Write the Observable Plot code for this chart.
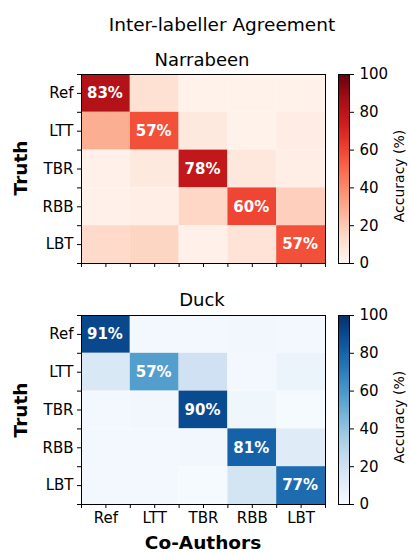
<!DOCTYPE html>
<html>
<head>
<meta charset="utf-8">
<script src="https://cdn.jsdelivr.net/npm/d3@7"></script>
<script src="https://cdn.jsdelivr.net/npm/@observablehq/plot@0.6"></script>
<style>
  body { margin: 0; background: white; font-family: "DejaVu Sans", sans-serif; }
  #wrap { position: relative; width: 409px; height: 552px; overflow: hidden; background: white; }
  #wrap svg { position: absolute; }
  #wrap g[aria-label$="tick label"] { font-size: 15px !important; font-family: "DejaVu Sans"; }
  .lbl { position: absolute; white-space: nowrap; color: #000; line-height: 1; }
</style>
</head>
<body>
<div id="wrap"></div>
<script>
// Data
const categories = ["Ref", "LTT", "TBR", "RBB", "LBT"];
const colorTicks = [0, 20, 40, 60, 80, 100];
// rows = Truth, columns = Co-Authors (accuracy %)
const narrabeen = [
  [83, 11, 2, 2, 2],
  [29, 57, 7, 2, 5],
  [3, 7, 78, 8, 4],
  [3, 4, 15, 60, 18],
  [14, 16, 3, 10, 57]
];
const duck = [
  [91, 2, 2, 3, 2],
  [15, 57, 20, 2, 6],
  [2, 3, 90, 4, 1],
  [2, 2, 3, 81, 12],
  [2, 2, 1, 18, 77]
];

const wrap = document.getElementById("wrap");
const halfTicks = d3.range(0, 5.01, 0.5);
const font = { fontFamily: "DejaVu Sans", fontSize: "15px", color: "#000", background: "transparent", overflow: "visible" };

function heatmap(values, scheme, showX, top, height, mb) {
  const data = values.flatMap((row, i) => row.map((v, j) => ({ row: i, col: j, v })));
  const svg = Plot.plot({
    width: 330, height, marginLeft: 81, marginRight: 5, marginTop: 10, marginBottom: mb,
    style: font,
    x: { domain: [0, 5] },
    y: { domain: [0, 5], reverse: true },
    color: { type: "linear", scheme, domain: [0, 100] },
    marks: [
      Plot.rect(data, { x1: "col", x2: d => d.col + 1, y1: "row", y2: d => d.row + 1, fill: "v" }),
      Plot.text(data.filter(d => d.row === d.col), {
        x: d => d.col + 0.5, y: d => d.row + 0.5, dx: -1, text: d => d.v + "%",
        fill: "white", fontWeight: "bold", fontSize: 15
      }),
      Plot.frame({ stroke: "black", strokeWidth: 1 }),
      Plot.axisX({
        ticks: halfTicks, tickSize: 4, tickPadding: 4, label: null, fontSize: 15,
        tickFormat: d => (showX && d % 1 === 0.5) ? categories[d - 0.5] : ""
      }),
      Plot.axisY({
        ticks: halfTicks, tickSize: 4, tickPadding: 4, label: null, fontSize: 15,
        tickFormat: d => (d % 1 === 0.5) ? categories[d - 0.5] : ""
      })
    ]
  });
  svg.style.left = "0px";
  svg.style.top = top + "px";
  wrap.appendChild(svg);
}

function colorbar(scheme, top, height, mb) {
  const svg = Plot.plot({
    width: 79, height, marginLeft: 8, marginRight: 60, marginTop: 10, marginBottom: mb,
    style: font,
    x: { domain: [0, 1], axis: null },
    y: { domain: [0, 100] },
    color: { type: "linear", scheme, domain: [0, 100] },
    marks: [
      Plot.raster({ x1: 0, x2: 1, y1: 0, y2: 100, width: 1, height: 256, fill: (x, y) => y, imageRendering: "auto" }),
      Plot.frame({ stroke: "black" }),
      Plot.axisY({
        anchor: "right", ticks: colorTicks, tickSize: 4, tickPadding: 6, label: null, fontSize: 15
      })
    ]
  });
  svg.style.left = "330px";
  svg.style.top = top + "px";
  wrap.appendChild(svg);
}

heatmap(narrabeen, "reds", false, 64, 210, 11);
colorbar("reds", 64, 210, 11);
heatmap(duck, "blues", true, 305, 250, 51);
colorbar("blues", 305, 210, 11);

function label(text, x, y, size, weight, rotate) {
  const d = document.createElement("div");
  d.className = "lbl";
  d.textContent = text;
  d.style.fontSize = size + "px";
  d.style.fontWeight = weight;
  d.style.left = x + "px";
  d.style.top = y + "px";
  d.style.transform = "translate(-50%,-50%)" + (rotate ? " rotate(-90deg)" : "");
  wrap.appendChild(d);
}
label("Inter-labeller Agreement", 222, 25, 18.5, "normal");
label("Narrabeen", 202, 60, 18, "normal");
label("Duck", 202, 300, 18, "normal");
label("Truth", 21, 168, 18.5, "bold", true);
label("Truth", 21, 410, 18.5, "bold", true);
label("Co-Authors", 203, 543, 18.5, "bold");
label("Accuracy (%)", 399, 176, 14, "normal", true);
label("Accuracy (%)", 399, 417, 14, "normal", true);
</script>
</body>
</html>
